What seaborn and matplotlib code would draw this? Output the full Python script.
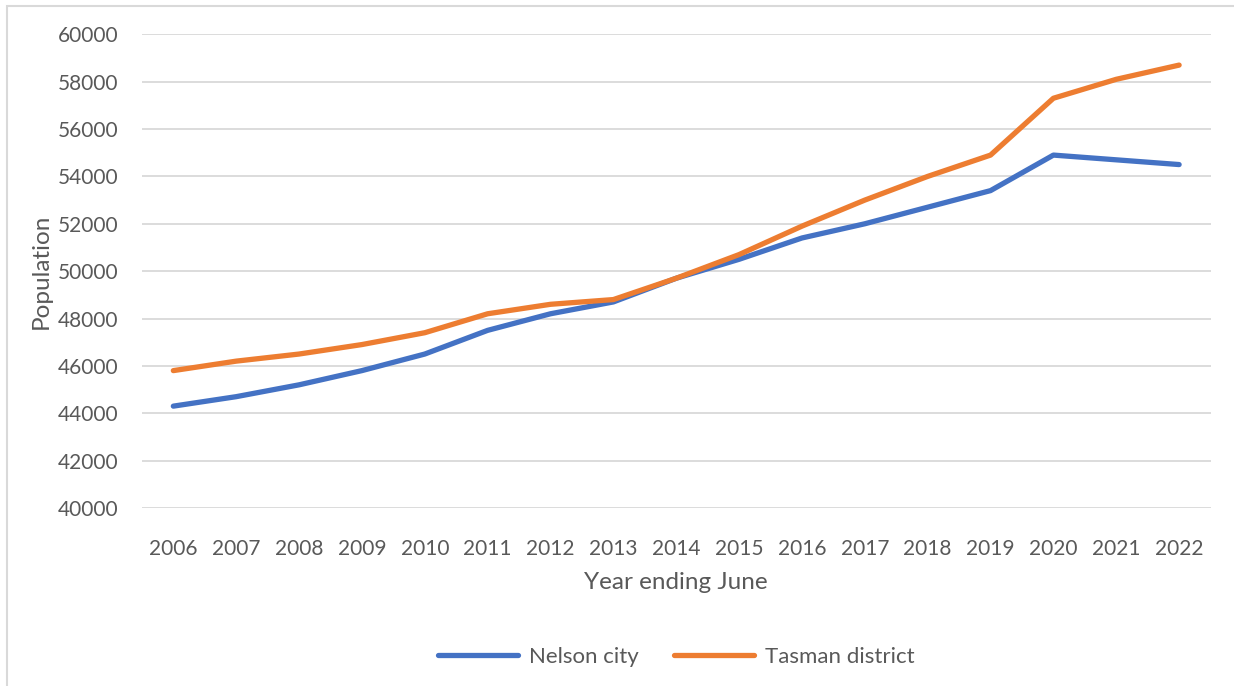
import matplotlib
matplotlib.use("Agg")
import matplotlib.pyplot as plt
import seaborn as sns
import pandas as pd
from matplotlib.patches import Rectangle

years = [2006, 2007, 2008, 2009, 2010, 2011, 2012, 2013, 2014,
         2015, 2016, 2017, 2018, 2019, 2020, 2021, 2022]
nelson = [44300, 44700, 45200, 45800, 46500, 47500, 48200, 48700, 49700,
          50500, 51400, 52000, 52700, 53400, 54900, 54700, 54500]
tasman = [45800, 46200, 46500, 46900, 47400, 48200, 48600, 48800, 49700,
          50700, 51900, 53000, 54000, 54900, 57300, 58100, 58700]
series_names = ["Nelson city", "Tasman district"]
colors = ["#4472C4", "#ED7D31"]

df = pd.DataFrame({
    "Year": [str(y) for y in years] * 2,
    "Population": nelson + tasman,
    "Series": [series_names[0]] * len(years) + [series_names[1]] * len(years),
})

sns.set_theme(style="white")
plt.rcParams['font.family'] = ['Lato', 'DejaVu Sans']
text_color = "#595959"

fig = plt.figure(figsize=(12.34, 6.86), dpi=100)
ax = fig.add_axes([0.115, 0.2595, 0.866, 0.6905])

sns.lineplot(data=df, x="Year", y="Population", hue="Series",
             palette=colors, linewidth=3.8, ax=ax, sort=False)
for line in ax.lines:
    line.set_solid_capstyle("round")
    line.set_solid_joinstyle("round")

ax.set_xlim(-0.5, len(years) - 0.5)
ax.set_ylim(40000, 60000)
ax.set_yticks(range(40000, 60001, 2000))
ax.yaxis.grid(True, color="#D9D9D9", linewidth=1.3)
ax.xaxis.grid(False)
for s in ax.spines.values():
    s.set_visible(False)
ax.tick_params(axis="both", length=0, labelsize=15, colors=text_color)
ax.tick_params(axis="x", pad=22)
ax.tick_params(axis="y", pad=17)
ax.set_xlabel("Year ending June", fontsize=17.5, color=text_color, labelpad=10)
ax.set_ylabel("Population", fontsize=17.5, color=text_color, labelpad=4)

leg = ax.legend(loc="center", bbox_to_anchor=(0.5, -0.315), ncol=2, frameon=False,
                fontsize=16, handlelength=3.6, columnspacing=1.6, handletextpad=0.5)
for t in leg.get_texts():
    t.set_color(text_color)
for h in leg.get_lines():
    h.set_linewidth(3.8)
    h.set_solid_capstyle("round")

fig.patches.append(Rectangle((7 / 1234, -0.1), 1.2, 1 - 6 / 686 + 0.1,
                             transform=fig.transFigure, fill=False,
                             edgecolor="#D9D9D9", linewidth=1.5))

fig.savefig("out.png", dpi=100)
